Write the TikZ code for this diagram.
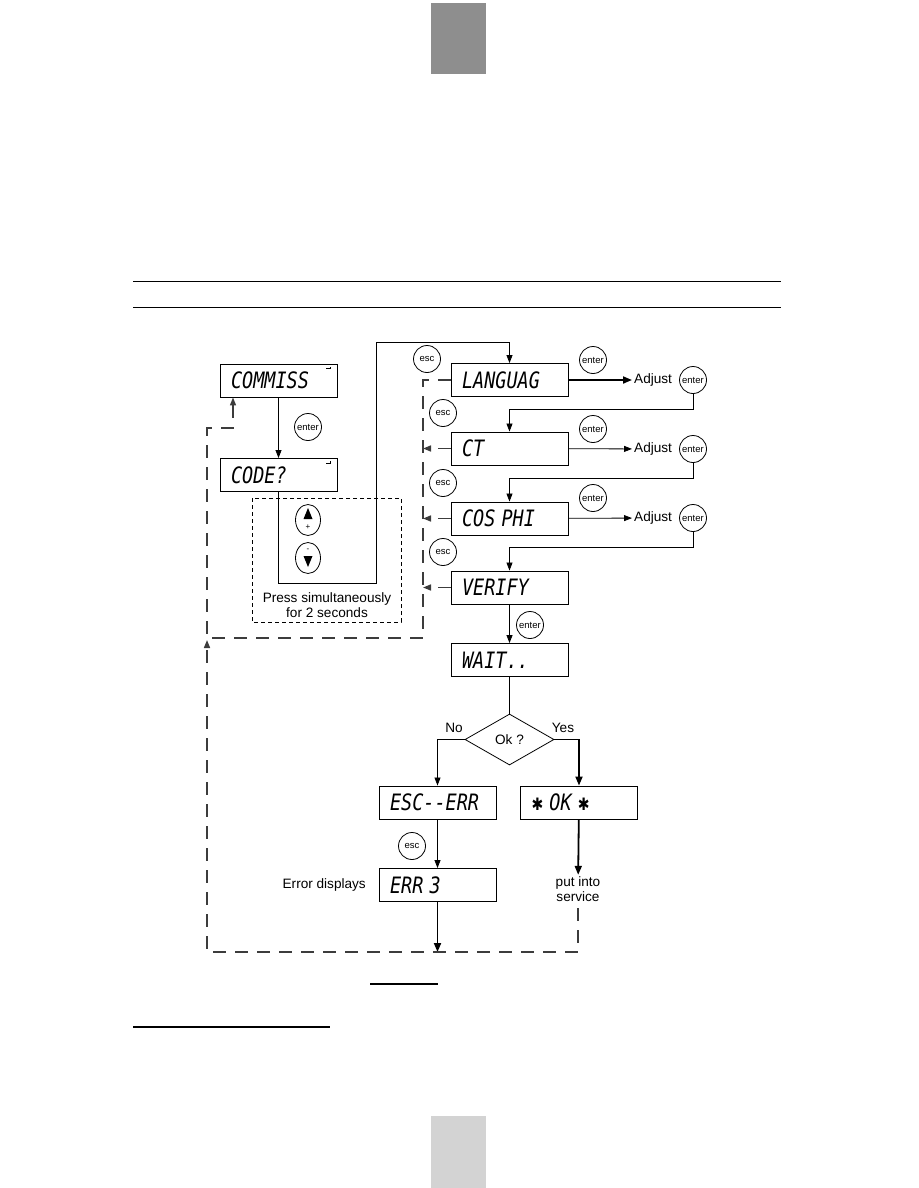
\documentclass[tikz,border=0pt]{standalone}
\usepackage{fontspec}
\usepackage{graphicx}
\setmainfont{Liberation Sans}
\newfontfamily\lcdfont{DejaVu Sans Mono}
\newfontfamily\glyphfont{DejaVu Sans}
\usetikzlibrary{shapes.geometric, arrows.meta, calc}
\definecolor{tabgray}{RGB}{142,142,142}
\definecolor{tablight}{RGB}{211,211,211}
\definecolor{loopgray}{RGB}{60,60,60}
\newcommand\lcdstar{{\glyphfont\upshape\fontsize{14}{14}\selectfont ✱}}
\newcommand\lcdtext[1]{\scalebox{1}[1.22]{#1}}

\begin{document}
\begin{tikzpicture}[
			x=1pt, y=-1pt,
			lcd/.style={draw, line width=0.9pt, minimum height=33pt, text width=95pt, inner xsep=11pt,
				inner ysep=0pt, align=left, font=\lcdfont\itshape\fontsize{18.5}{19}\selectfont},
			key/.style={draw, circle, line width=0.8pt, minimum size=27pt, inner sep=0pt,
				font=\fontsize{9.5}{10}\selectfont},
			updown/.style={draw, ellipse, line width=0.8pt, minimum width=25pt, minimum height=31pt, inner sep=0pt},
			note/.style={font=\fontsize{13.6}{15}\selectfont, align=center, inner sep=2pt},
			decision/.style={draw, diamond, line width=0.8pt, minimum width=89pt, minimum height=51pt,
				inner sep=1pt, font=\fontsize{13.6}{15}\selectfont},
			flow/.style={line width=0.8pt, -{Triangle[length=8pt, width=6pt]}},
			bigflow/.style={line width=1.8pt, -{Triangle[length=9pt, width=7pt]}},
			escpath/.style={draw=loopgray, line width=1.5pt, dash pattern=on 13pt off 9pt},
			escarrow/.style={escpath, -{Triangle[length=8pt, width=6pt]}},
			holdbox/.style={line width=0.7pt, dash pattern=on 4pt off 3pt}
			]
			\useasboundingbox (0,0) rectangle (918,1188);
			
			% Page tabs and rules
			\fill[tabgray]  (431,3) rectangle (486,74);
			\fill[tablight] (431,1116) rectangle (486,1188);
			\draw[line width=1pt] (133,281) -- (781,281);
			\draw[line width=1pt] (133,307) -- (781,307);
			\draw[line width=2pt] (370,984) -- (438,984);
			\draw[line width=2pt] (133,1027) -- (330,1027);
			
			% Displays
			\node[lcd] (commiss) at (278.5,380.5) {\lcdtext{COMMISS}};
			\node[lcd] (code)    at (278.5,475)   {\lcdtext{CODE?}};
			\node[lcd] (languag) at (509.5,380)   {\lcdtext{LANGUAG}};
			\node[lcd] (ct)      at (509.5,448.5) {\lcdtext{CT}};
			\node[lcd] (cosphi)  at (509.5,518.5) {\lcdtext{COS PHI}};
			\node[lcd] (verify)  at (509.5,587.5) {\lcdtext{VERIFY}};
			\node[lcd] (wait)    at (509.5,660)   {\lcdtext{WAIT..}};
			\node[decision] (okq) at (509.5,739.5) {Ok ?};
			\node[lcd] (escerr)  at (437.5,802.5) {\lcdtext{ESC-{}-ERR}};
			\node[lcd] (okmsg)   at (579,802.5)   {\lcdtext{\lcdstar{} OK \lcdstar}};
			\node[lcd] (err)     at (437.5,885)   {\lcdtext{ERR 3}};
			
			% small marks on the first two displays
			\draw[line width=0.6pt] ([shift={(-11,5)}]commiss.north east) -- ++(4,0) -- ++(0,-2);
			\draw[line width=0.6pt] ([shift={(-11,5)}]code.north east) -- ++(4,0) -- ++(0,-2);
			
			% Keys
			\node[key] (k1) at (308,427) {enter};
			\node[key] (k2) at (427,359) {esc};
			\node[key] (k3) at (593,360) {enter};
			\node[key] (k4) at (693,380) {enter};
			\node[key] (k5) at (443,413) {esc};
			\node[key] (k6) at (593,429) {enter};
			\node[key] (k7) at (693,449) {enter};
			\node[key] (k8) at (443,483) {esc};
			\node[key] (k9) at (593,498) {enter};
			\node[key] (k10) at (693,518) {enter};
			\node[key] (k11) at (443,552) {esc};
			\node[key] (k12) at (530,625) {enter};
			\node[key] (k13) at (412,846) {esc};
			
			% Up / down keys in the dashed box
			\draw[holdbox] (252,498) rectangle (401,622);
			\node[updown] (plus)  at (308,520) {};
			\node[updown] (minus) at (308,558) {};
			\fill ([yshift=12pt]plus.center) -- ++(4.5,11) -- ++(-9,0) -- cycle;
			\node[font=\fontsize{8}{8}\selectfont, inner sep=0pt] at ([yshift=-7pt]plus.center) {+};
			\node[font=\fontsize{8}{8}\selectfont, inner sep=0pt] at ([yshift=8pt]minus.center) {-};
			\fill ([shift={(-4.5,-2)}]minus.center) -- ++(9,0) -- ++(-4.5,11) -- cycle;
			\node[note] (hold) at (327,605.5) {Press simultaneously\\for 2 seconds};
			
			% Labels
			\node[note, anchor=west] (adj1) at (632,380) {Adjust};
			\node[note, anchor=west] (adj2) at (632,449) {Adjust};
			\node[note, anchor=west] (adj3) at (632,518) {Adjust};
			\node[note] (no)  at (454,728) {No};
			\node[note] (yes) at (563,728) {Yes};
			\node[note, anchor=east] (errtxt) at (368,885) {Error displays};
			\node[note] (svc) at (578,889.5) {put into\\service};
			
			% Main flow
			\coordinate (c1) at (376,583);
			\coordinate (c2) at (376,342);
			\draw[flow] (commiss) -- (code);
			\draw[flow] (code.south) |- (c1) -- (c2) -| (languag.north);
			\draw[bigflow] (languag) -- (adj1);
			\draw[flow] (ct) -- (adj2);
			\draw[flow] (cosphi) -- (adj3);
			\draw[flow] (k4.south) -- ++(0,15) -| (ct.north);
			\draw[flow] (k7.south) -- ++(0,15) -| (cosphi.north);
			\draw[flow] (k10.south) -- ++(0,15) -| (verify.north);
			\draw[flow] (verify) -- (wait);
			\draw[line width=0.8pt] (wait) -- (okq);
			\draw[flow] (okq.west) -| (escerr.north);
			\draw[bigflow] (okq.east) -| (okmsg.north);
			\draw[flow] (escerr) -- (err);
			\draw[bigflow] (okmsg) -- (svc);
			
			% Esc return path
			\coordinate (r1) at (423,380);
			\coordinate (r2) at (423,638);
			\coordinate (l2) at (207,638);
			\coordinate (l3) at (207,428);
			\coordinate (l4) at (233,428);
			\draw[escarrow] (languag.west) -- (r1) -- (r2) -- (l2) -- (l3) -- (l4) -- (l4 |- commiss.south);
			\draw[escarrow] (ct.west) -- (ct.west -| r1);
			\draw[escarrow] (cosphi.west) -- (cosphi.west -| r1);
			\draw[escarrow] (verify.west) -- (verify.west -| r1);
			
			% Bottom return path
			\coordinate (b1) at (578,952);
			\coordinate (b2) at (207,952);
			\coordinate (b3) at (207,640);
			\coordinate (b4) at (437.5,952);
			\draw[bigflow] (err) -- (b4);
			\draw[escarrow] ([yshift=-4pt]svc.south) -- (b1) -- (b2) -- (b3);
			
		\end{tikzpicture}
\end{document}
